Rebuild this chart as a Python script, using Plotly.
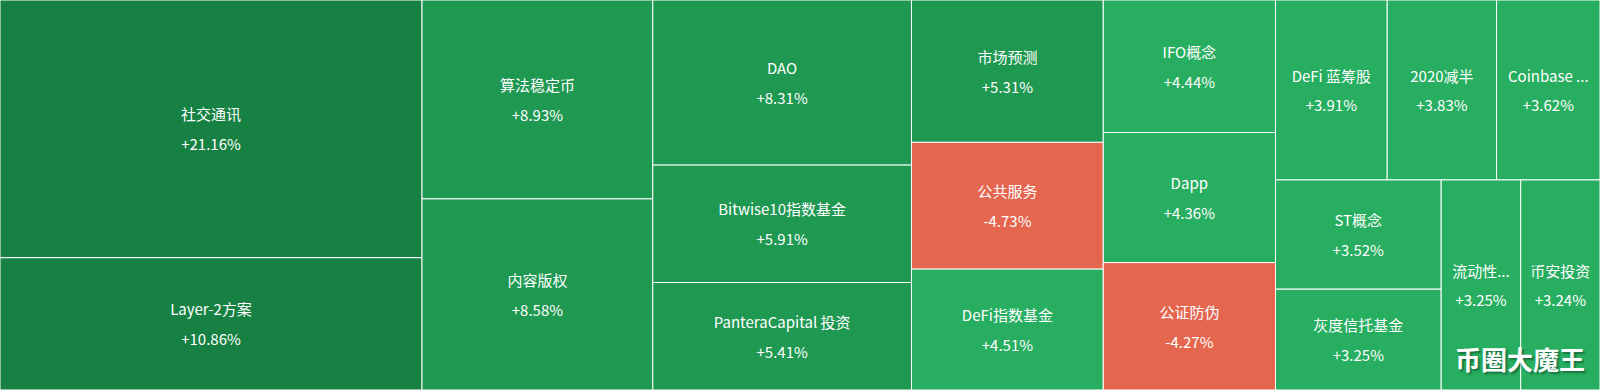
import plotly.graph_objects as go

names = ["社交通讯", "Layer-2方案", "算法稳定币", "内容版权", "DAO", "Bitwise10指数基金",
         "PanteraCapital 投资", "市场预测", "公共服务", "DeFi指数基金", "IFO概念", "Dapp",
         "公证防伪", "DeFi 蓝筹股", "2020减半", "Coinbase ...", "ST概念", "灰度信托基金",
         "流动性...", "币安投资"]
changes = [21.16, 10.86, 8.93, 8.58, 8.31, 5.91, 5.41, 5.31, -4.73, 4.51, 4.44, 4.36,
           -4.27, 3.91, 3.83, 3.62, 3.52, 3.25, 3.25, 3.24]

def color_for(v):
    if v < 0:
        return "#e5664f"
    if v >= 10:
        return "#168142"
    if v >= 5:
        return "#1f9852"
    return "#27ae60"

sizes = [abs(v) for v in changes]
texts = [("+" if v > 0 else "") + f"{v:.2f}%" for v in changes]
colors = [color_for(v) for v in changes]

span = "<span style='font-size:15px'>{}</span>"
labels_txt = [span.format(n) + "<br>" + span.format(t) for n, t in zip(names, texts)]

fig = go.Figure(go.Treemap(
    labels=names,
    parents=[""] * len(names),
    values=sizes,
    text=labels_txt,
    texttemplate="%{text}",
    textposition="middle center",
    marker=dict(colors=colors, line=dict(width=1, color="#ffffff"), pad=dict(t=0, l=0, r=0, b=0)),
    tiling=dict(packing="squarify", squarifyratio=1.618, pad=0),
    pathbar=dict(visible=False),
    sort=True,
    root=dict(color="#ffffff"),
    textfont=dict(family="Noto Sans CJK SC, sans-serif", size=23, color="#ffffff"),
    hoverinfo="skip",
))

fig.update_layout(
    width=1600, height=390,
    margin=dict(l=0, r=0, t=0, b=0),
    paper_bgcolor="#ffffff",
    hovermode=False,
    annotations=[dict(
        text="<b>币圈大魔王</b>", x=1520 / 1600, y=1 - 358 / 390, xref="paper", yref="paper",
        xanchor="center", yanchor="middle",
        showarrow=False,
        font=dict(family="Noto Sans CJK SC, sans-serif", size=26, color="#ffffff",
                  shadow="2px 2px 2px rgba(0,0,0,0.35)"),
    )],
)

fig.write_html("out.html", config={"staticPlot": True, "displayModeBar": False},
               post_script="document.body.style.margin='0';")
